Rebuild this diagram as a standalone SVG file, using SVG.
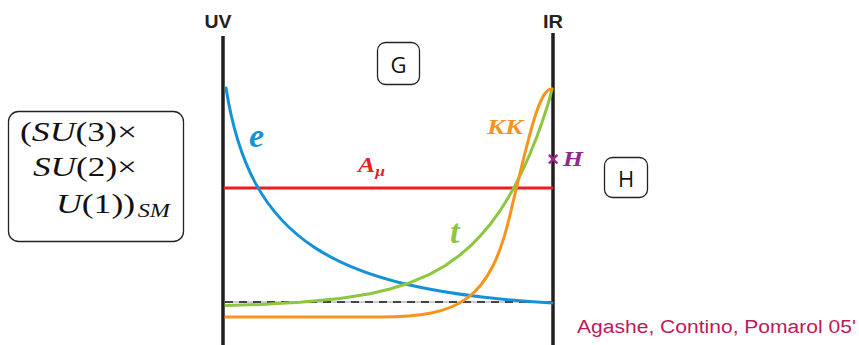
<svg xmlns="http://www.w3.org/2000/svg" width="859" height="345" viewBox="0 0 859 345">
<style>
.box{fill:#fff;stroke:#222;stroke-width:1.3}
.wall{stroke:#231f20;stroke-width:3.5;fill:none}
.curve{fill:none;stroke-width:3;stroke-linecap:round;stroke-linejoin:round}
.math{font-family:"Liberation Serif",serif;font-size:28px;fill:#111}
.it{font-style:italic}
.lbl{font-family:"Liberation Serif",serif;font-style:italic;font-weight:bold}
.head{font-family:"Liberation Sans",Arial,sans-serif;font-weight:bold;font-size:19px;fill:#222}
.sans{font-family:"Open Sans","Liberation Sans",sans-serif;fill:#111}
</style>
<rect width="859" height="345" fill="#fff"/>
<g id="walls">
<line class="wall" x1="223" y1="36" x2="223" y2="345"/>
<line class="wall" x1="553" y1="33" x2="553" y2="345"/>
<text class="head" x="218" y="28" text-anchor="middle" textLength="27" lengthAdjust="spacingAndGlyphs">UV</text>
<text class="head" x="553" y="28" text-anchor="middle" textLength="20" lengthAdjust="spacingAndGlyphs">IR</text>
</g>
<g id="sm">
<rect class="box" x="8.5" y="111.5" width="175" height="130" rx="10"/>
<text class="math" x="20" y="141" textLength="117" lengthAdjust="spacingAndGlyphs">(<tspan class="it">SU</tspan>(3)×</text>
<text class="math" x="33" y="176" textLength="104" lengthAdjust="spacingAndGlyphs"><tspan class="it">SU</tspan>(2)×</text>
<text class="math" x="56" y="213" textLength="114" lengthAdjust="spacingAndGlyphs"><tspan class="it">U</tspan>(1))<tspan class="it" font-size="19" dx="2" dy="4">SM</tspan></text>
</g>
<g id="G">
<rect class="box" x="377.5" y="42.5" width="42" height="42" rx="8"/>
<text class="sans" x="398.5" y="73" font-size="22" text-anchor="middle">G</text>
</g>
<g id="H">
<rect class="box" x="604.5" y="157.5" width="43" height="40" rx="8"/>
<text class="sans" x="626" y="187" font-size="22" text-anchor="middle">H</text>
</g>
<g id="connectors">
<line x1="225" y1="302" x2="552" y2="302" stroke="#cfcfcf" stroke-width="2"/>
<line x1="225" y1="302" x2="552" y2="302" stroke="#444" stroke-width="2" stroke-dasharray="8 6"/>
<line class="curve" x1="225" y1="188" x2="552" y2="188" stroke="#ed1c24"/>
<path class="curve" stroke="#1591d8" d="M226,88 C250,240 330,290 552,303"/>
<path class="curve" stroke="#8dc63f" d="M226,305.5 L260,304.5 L300,302.3 L340,298.5 L370,293.8 L390,289 L410,282.7 L430,274.1 L445,265.7 L460,255 L470,246.4 L480,236.3 L490,224.5 L500,210.8 L508,198.1 L515,185.7 L522,171.7 L530,153.8 L536,138.9 L542,122.4 L548,104.3 L552,89"/>
<path class="curve" stroke="#f7941d" d="M226,317 H380 C460,317 490,300 510,215 S540,88 552,89"/>
</g>
<g id="labels">
<text class="lbl" x="249" y="147" font-size="34" fill="#1591d8">e</text>
<text class="lbl" x="358" y="172" font-size="22" fill="#ed1c24" textLength="27" lengthAdjust="spacingAndGlyphs">A<tspan font-size="15" dy="4">μ</tspan></text>
<text class="lbl" x="487" y="134" font-size="22" fill="#f7941d" textLength="36" lengthAdjust="spacingAndGlyphs">KK</text>
<text class="lbl" x="450" y="243" font-size="34" fill="#8dc63f">t</text>
<text x="553" y="166" font-family="Liberation Sans,sans-serif" font-size="20" font-weight="bold" fill="#92278f" text-anchor="middle">×</text>
<text class="lbl" x="563" y="166" font-size="22" fill="#92278f" textLength="20" lengthAdjust="spacingAndGlyphs">H</text>
</g>
<text x="577" y="333" font-family="Liberation Sans,sans-serif" font-size="18" fill="#c0175d" textLength="279" lengthAdjust="spacingAndGlyphs">Agashe, Contino, Pomarol 05'</text>
</svg>
